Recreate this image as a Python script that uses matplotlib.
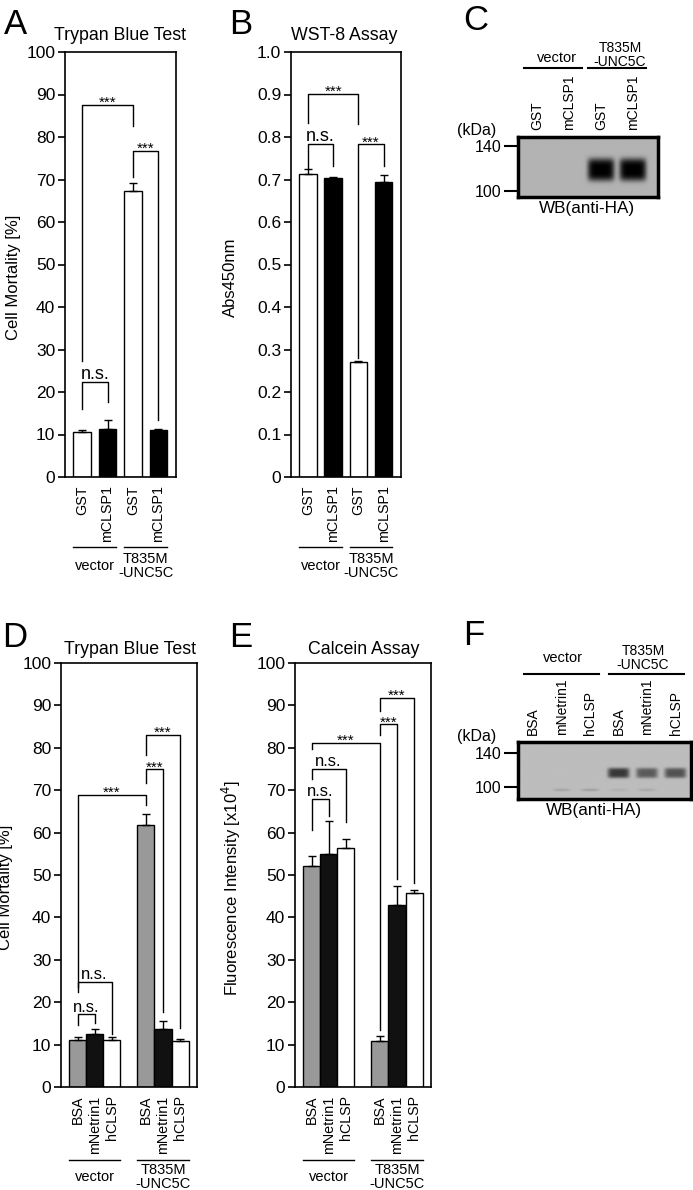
import numpy as np
import matplotlib
matplotlib.use("Agg")
import matplotlib.pyplot as plt
from matplotlib.transforms import blended_transform_factory

W, H = 693, 1190
plt.rcParams["font.family"] = ["Liberation Sans", "DejaVu Sans"]
plt.rcParams["axes.linewidth"] = 1.2

# ---- data ----
ab_labels = ["GST", "mCLSP1", "GST", "mCLSP1"]
a_mortality = [10.7, 11.3, 67.2, 11.0]
a_err = [0.3, 2.2, 2.0, 0.3]
b_abs450 = [0.712, 0.703, 0.271, 0.694]
b_err = [0.012, 0.004, 0.002, 0.017]

de_labels = ["BSA", "mNetrin1", "hCLSP", "BSA", "mNetrin1", "hCLSP"]
d_mortality = [11.0, 12.6, 11.0, 61.8, 13.6, 10.8]
d_err = [0.7, 1.0, 0.7, 2.6, 2.0, 0.6]
e_fluor = [52.2, 55.0, 56.3, 10.9, 43.0, 45.7]
e_err = [2.2, 7.8, 2.1, 1.1, 4.4, 0.8]

groups = ["vector", "T835M\n-UNC5C"]

# brackets: (bar i, bar j, top, left end, right end, text)
a_brackets = [(0, 2, 87.6, 27.4, 82.7, "***"), (2, 3, 76.8, 70.5, 13.5, "***"),
              (0, 1, 22.4, 16.0, 17.7, "n.s.")]
b_brackets = [(0, 2, 0.901, 0.834, 0.830, "***"), (0, 1, 0.783, 0.728, 0.732, "n.s."),
              (2, 3, 0.783, 0.281, 0.732, "***")]
d_brackets = [(0, 1, 17.1, 14.6, 15.0, "n.s."), (0, 2, 24.8, 22.5, 12.5, "n.s."),
              (0, 3, 68.9, 23.6, 66.5, "***"), (3, 4, 74.9, 71.7, 17.7, "***"),
              (3, 5, 83.0, 78.4, 13.9, "***")]
e_brackets = [(0, 1, 68.0, 60.5, 64.0, "n.s."), (0, 2, 75.1, 72.7, 62.5, "n.s."),
              (0, 3, 81.2, 79.6, 13.4, "***"), (3, 4, 85.5, 83.0, 49.0, "***"),
              (3, 5, 91.8, 88.7, 48.0, "***")]

# western blots: lane names and relative band strength
c_lanes = ["GST", "mCLSP1", "GST", "mCLSP1"]
c_band = [0.0, 0.0, 1.0, 1.0]
c_band_kda = 119
f_lanes = ["BSA", "mNetrin1", "hCLSP", "BSA", "mNetrin1", "hCLSP"]
f_band = [0.0, 0.0, 0.0, 0.75, 0.55, 0.6]
f_band_kda = 116.5
f_faint = [0.0, 0.1, 0.12, 0.05, 0.08, 0.0]
f_faint_kda = 96.5

fig = plt.figure(figsize=(W / 100, H / 100), dpi=100)


def px_axes(x0, y0, x1, y1):
    return fig.add_axes([x0 / W, 1 - y1 / H, (x1 - x0) / W, (y1 - y0) / H])


def ftext(x, y, s, **kw):
    fig.text(x / W, 1 - y / H, s, **kw)


def bracket(ax, xs, i, j, top, yl, yr, txt, ns_fs):
    x1, x2 = xs[i], xs[j]
    ax.plot([x1, x1, x2, x2], [yl, top, top, yr], color="k", lw=1, clip_on=False)
    if txt == "***":
        ax.annotate(txt, ((x1 + x2) / 2, top), xytext=(0, -1.5), textcoords="offset points",
                    ha="center", va="baseline", fontsize=11)
    else:
        ax.annotate(txt, ((x1 + x2) / 2, top), xytext=(0, 2), textcoords="offset points",
                    ha="center", va="baseline", fontsize=ns_fs)


def bar_panel(rect, xs, width, xlim, vals, errs, colors, labels, ylim, yticks, ytl,
              ylabel, ylab_x, brackets, ns_fs, line_px, text_px, split):
    ax = px_axes(*rect)
    ax.bar(xs, vals, width=width, color=colors, edgecolor="k", linewidth=1, zorder=2)
    ax.errorbar(xs, vals, yerr=[np.zeros(len(vals)), errs], fmt="none", ecolor="k",
                elinewidth=1, capsize=3, capthick=1, zorder=3)
    ax.set_xlim(*xlim)
    ax.set_ylim(*ylim)
    ax.set_yticks(yticks, ytl, fontsize=12.5)
    ax.tick_params(axis="y", direction="out", length=5, width=1.2, pad=2)
    ax.set_xticks(xs, labels, rotation=90, fontsize=10.3)
    ax.tick_params(axis="x", length=0, pad=6)
    ax.set_ylabel(ylabel, fontsize=12)
    ax.yaxis.set_label_coords(ylab_x, 0.47)
    for b in brackets:
        bracket(ax, xs, *b, ns_fs)
    # group underlines and names, placed by pixel offsets below the axes
    hgt = rect[3] - rect[1]
    line_frac = -(line_px - rect[3]) / hgt
    text_frac = -(text_px - rect[3]) / hgt
    tr = blended_transform_factory(ax.transData, ax.transAxes)
    for g, idx in zip(groups, [slice(0, split), slice(split, None)]):
        gx = xs[idx]
        ax.plot([gx[0] - width / 2, gx[-1] + width / 2], [line_frac, line_frac],
                color="k", lw=1, transform=tr, clip_on=False)
        ax.text((gx[0] + gx[-1]) / 2, text_frac, g, transform=tr, ha="center", va="center",
                fontsize=10.5, linespacing=0.95)
    return ax


def blot(rect, lanes, xlim, ylim, bg, bands, band_kda, sx, sy, faint=None, faint_kda=None):
    ax = px_axes(*rect)
    gx = np.linspace(xlim[0], xlim[1], 300)
    gy = np.linspace(ylim[0], ylim[1], 200)
    X, Y = np.meshgrid(gx, gy)
    img = np.full(X.shape, bg)
    for k, s in enumerate(bands):
        img -= s * 0.7 * np.exp(-((X - k) / sx) ** 6) * np.exp(-((Y - band_kda) / sy) ** 4)
    if faint is not None:
        for k, s in enumerate(faint):
            img -= s * np.exp(-((X - k) / 0.3) ** 4) * np.exp(-((Y - faint_kda) / 1.5) ** 2)
    img = np.clip(img, 0, 1)
    ax.imshow(img, cmap="gray", vmin=0, vmax=1, origin="lower", aspect="auto",
              extent=(xlim[0], xlim[1], ylim[0], ylim[1]), interpolation="bilinear")
    ax.set_xlim(*xlim)
    ax.set_ylim(*ylim)
    ax.set_yticks([100, 140], ["100", "140"], fontsize=11.5)
    ax.tick_params(axis="y", direction="out", length=10, width=1.5, pad=2)
    ax.xaxis.tick_top()
    ax.set_xticks(range(len(lanes)), lanes, rotation=90, fontsize=10)
    ax.tick_params(axis="x", length=0, pad=5)
    for sp in ax.spines.values():
        sp.set_linewidth(2.5)
    return ax


ab_colors = ["white", "black", "white", "black"]
de_colors = ["#999999", "#111111", "white"] * 2
pct_ticks = list(range(0, 101, 10))

# ---- A ----
xs4 = np.arange(4)
bar_panel((65, 52, 176, 477), xs4, 0.7, (-0.67, 3.69), a_mortality, a_err, ab_colors,
          ab_labels, (0, 100), pct_ticks, [str(v) for v in pct_ticks],
          "Cell Mortality [%]", -0.4, a_brackets, 13, 547, 566, 2)
ftext(120, 36, "Trypan Blue Test", ha="center", va="center", fontsize=12.8)
ftext(4, 34, "A", fontsize=25, va="baseline")

# ---- B ----
bt = [round(v * 0.1, 1) for v in range(11)]
bar_panel((291, 52, 401, 477), xs4, 0.7, (-0.67, 3.69), b_abs450, b_err, ab_colors,
          ab_labels, (0, 1.0), bt, ["0" if v == 0 else f"{v:.1f}" for v in bt],
          "Abs450nm", -0.48, b_brackets, 13, 547, 566, 2)
ftext(344, 36, "WST-8 Assay", ha="center", va="center", fontsize=12.8)
ftext(229, 34, "B", fontsize=25, va="baseline")

# ---- C ----
axc = blot((518, 137, 658, 197), c_lanes, (-0.6, 3.78), (94.7, 148), 0.70, c_band,
           c_band_kda, 0.42, 10)
trc = blended_transform_factory(axc.transData, axc.transAxes)
for a, b in [(0, 1), (2, 3)]:
    axc.plot([a - 0.4, b + 0.4], [2.15, 2.15], color="k", lw=1.5, transform=trc, clip_on=False)
ftext(557, 58, groups[0], ha="center", va="center", fontsize=10.5)
ftext(620, 55, groups[1], ha="center", va="center", fontsize=10, linespacing=0.95)
ftext(477, 130, "(kDa)", ha="center", va="center", fontsize=11.5)
ftext(587, 208, "WB(anti-HA)", ha="center", va="center", fontsize=12.3)
ftext(463, 30, "C", fontsize=25, va="baseline")

# ---- D ----
xs6 = np.array([0, 1, 2, 4, 5, 6])
bar_panel((61, 663, 197, 1087), xs6, 1.0, (-0.97, 6.99), d_mortality, d_err, de_colors,
          de_labels, (0, 100), pct_ticks, [str(v) for v in pct_ticks],
          "Cell Mortality [%]", -0.35, d_brackets, 12, 1160, 1177, 3)
ftext(130, 650, "Trypan Blue Test", ha="center", va="center", fontsize=12.8)
ftext(2, 647, "D", fontsize=25, va="baseline")

# ---- E ----
bar_panel((295, 663, 431, 1087), xs6, 1.0, (-0.97, 6.99), e_fluor, e_err, de_colors,
          de_labels, (0, 100), pct_ticks, [str(v) for v in pct_ticks],
          "Fluorescence Intensity [x10$^4$]", -0.385, e_brackets, 12, 1160, 1177, 3)
ftext(364, 650, "Calcein Assay", ha="center", va="center", fontsize=12.8)
ftext(229, 647, "E", fontsize=25, va="baseline")

# ---- F ----
axf = blot((518, 742, 691, 799), f_lanes, (-0.53, 5.54), (85.9, 152.9), 0.74, f_band,
           f_band_kda, 0.38, 6, f_faint, f_faint_kda)
trf = blended_transform_factory(axf.transData, axf.transAxes)
for a, b in [(0, 2), (3, 5)]:
    axf.plot([a - 0.32, b + 0.3], [2.19, 2.19], color="k", lw=1.5, transform=trf, clip_on=False)
ftext(563, 658, groups[0], ha="center", va="center", fontsize=10.5)
ftext(643, 658, groups[1], ha="center", va="center", fontsize=10, linespacing=0.95)
ftext(477, 737, "(kDa)", ha="center", va="center", fontsize=11.5)
ftext(594, 811, "WB(anti-HA)", ha="center", va="center", fontsize=12.3)
ftext(463, 645, "F", fontsize=25, va="baseline")

fig.savefig("out.png", dpi=100)
